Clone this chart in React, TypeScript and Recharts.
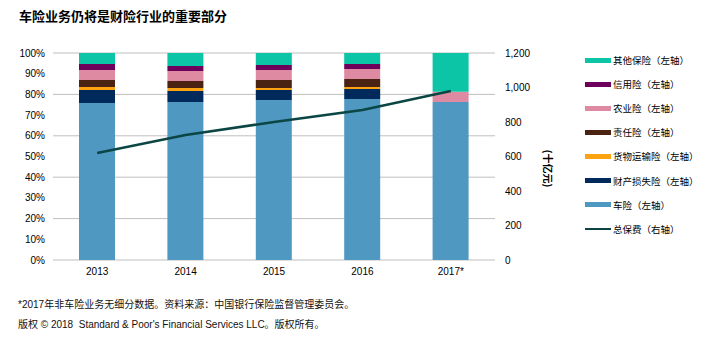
import React from 'react';
import { ComposedChart, Bar, Line, XAxis, YAxis, CartesianGrid } from 'recharts';

const categories = ['2013', '2014', '2015', '2016', '2017*'];
const motor = [75.8, 76.3, 77.3, 77.8, 76.3];
const propertyLoss = [6.3, 5.3, 4.8, 4.8, null];
const cargo = [1.5, 1.5, 1.0, 1.0, null];
const liability = [3.4, 3.4, 3.9, 3.8, null];
const agriculture = [4.8, 4.8, 4.8, 4.9, 5.0];
const credit = [2.9, 2.4, 2.4, 2.4, null];
const other = [5.3, 6.3, 5.8, 5.3, 18.7];
const totalPremium = [620, 725, 800, 870, 980];

const leftTicks = [0, 10, 20, 30, 40, 50, 60, 70, 80, 90, 100];
const rightTicks = [0, 200, 400, 600, 800, 1000, 1200];
const boundaryTicks = [0, 1, 2, 3, 4, 5];

const title = '车险业务仍将是财险行业的重要部分';
const rightAxisLabel = '(十亿元)';
const footnote1 = '*2017年非车险业务无细分数据。资料来源：中国银行保险监督管理委员会。';
const footnote2 = '版权 © 2018  Standard & Poor\'s Financial Services LLC。版权所有。';

const series = [
  { key: 'motor', name: '车险（左轴）', color: '#4f98c2', values: motor },
  { key: 'propertyLoss', name: '财产损失险（左轴）', color: '#002a5c', values: propertyLoss },
  { key: 'cargo', name: '货物运输险（左轴）', color: '#fca311', values: cargo },
  { key: 'liability', name: '责任险（左轴）', color: '#4b2313', values: liability },
  { key: 'agriculture', name: '农业险（左轴）', color: '#de8aa3', values: agriculture },
  { key: 'credit', name: '信用险（左轴）', color: '#6d005a', values: credit },
  { key: 'other', name: '其他保险（左轴）', color: '#0cc4a6', values: other },
];
const lineName = '总保费（右轴）';
const lineColor = '#0b4644';

const data = categories.map((c, i) => {
  const row: any = { category: c, total: totalPremium[i] };
  series.forEach((s) => {
    row[s.key] = s.values[i];
  });
  return row;
});

const FONT = '"Liberation Sans", Arial, "Noto Sans CJK SC", sans-serif';
const CJK = '"Noto Sans CJK SC", "Liberation Sans", sans-serif';

const legendItems = [
  ...series.slice().reverse().map((s) => ({ name: s.name, color: s.color, line: false })),
  { name: lineName, color: lineColor, line: true },
];

const RightLabel = (props: any) => {
  const vb = props.viewBox || {};
  const x = vb.x + 53;
  const y = vb.y + vb.height / 2 + 12;
  return (
    <text x={x} y={y} transform={`rotate(90 ${x} ${y})`} textAnchor="middle" dominantBaseline="central"
      fontSize={10} fontWeight="bold" fill="#000" fontFamily={CJK}>
      {rightAxisLabel}
    </text>
  );
};

export default function App() {
  return (
    <div style={{ position: 'fixed', left: 0, top: 0, width: 716, height: 352, background: '#fff', overflow: 'hidden' }}>
      <div style={{ position: 'absolute', left: 19, top: 7, fontFamily: CJK, fontWeight: 'bold', fontSize: 13, lineHeight: '18px', color: '#000' }}>
        {title}
      </div>
      <ComposedChart width={716} height={352} data={data}
        margin={{ top: 53, right: 161, bottom: 62, left: 8 }}>
        <CartesianGrid yAxisId="left" vertical={false} stroke="#bfbfbf" />
        <XAxis xAxisId="ticks" type="number" domain={[0, 5]} ticks={boundaryTicks} tick={false}
          tickSize={5} height={0} stroke="#bfbfbf" axisLine={{ stroke: '#bfbfbf' }} tickLine={{ stroke: '#bfbfbf' }} />
        <XAxis xAxisId="cat" dataKey="category" height={30} axisLine={false} tickLine={false}
          tick={{ fontSize: 10, fill: '#000', fontFamily: FONT }} />
        <YAxis yAxisId="left" width={45} domain={[0, 100]} ticks={leftTicks} axisLine={false} tickLine={false}
          tickFormatter={(v: number) => `${v}%`} tick={{ fontSize: 10, fill: '#000', fontFamily: FONT }} />
        <YAxis yAxisId="right" orientation="right" width={60} domain={[0, 1200]} ticks={rightTicks}
          axisLine={false} tickLine={false} tickMargin={4}
          tickFormatter={(v: number) => v.toLocaleString('en-US')}
          tick={{ fontSize: 10, fill: '#000', fontFamily: FONT, textAnchor: 'start' }}
          label={<RightLabel />} />
        {series.map((s) => (
          <Bar key={s.key} xAxisId="cat" yAxisId="left" dataKey={s.key} name={s.name} stackId="a"
            fill={s.color} barSize={36} isAnimationActive={false} />
        ))}
        <Line xAxisId="cat" yAxisId="right" dataKey="total" name={lineName} stroke={lineColor}
          strokeWidth={2.5} dot={false} activeDot={false} isAnimationActive={false} />
      </ComposedChart>
      <div style={{ position: 'absolute', left: 585, top: 0, fontFamily: CJK, fontSize: 9.5, color: '#000' }}>
        {legendItems.map((it, i) => (
          <div key={it.name} style={{ position: 'absolute', left: 0, top: 60 + i * 24.1 - 7, height: 14, display: 'flex', alignItems: 'center', whiteSpace: 'nowrap' }}>
            <div style={{ width: 26, height: it.line ? 2 : 5, background: it.color, marginRight: 2 }} />
            <span>{it.name}</span>
          </div>
        ))}
      </div>
      <div style={{ position: 'absolute', left: 18, top: 298, fontFamily: FONT, fontSize: 10, lineHeight: '14px', color: '#111', whiteSpace: 'pre' }}>
        {footnote1}
      </div>
      <div style={{ position: 'absolute', left: 18, top: 318, fontFamily: FONT, fontSize: 10, lineHeight: '14px', color: '#111', whiteSpace: 'pre' }}>
        {footnote2}
      </div>
    </div>
  );
}
